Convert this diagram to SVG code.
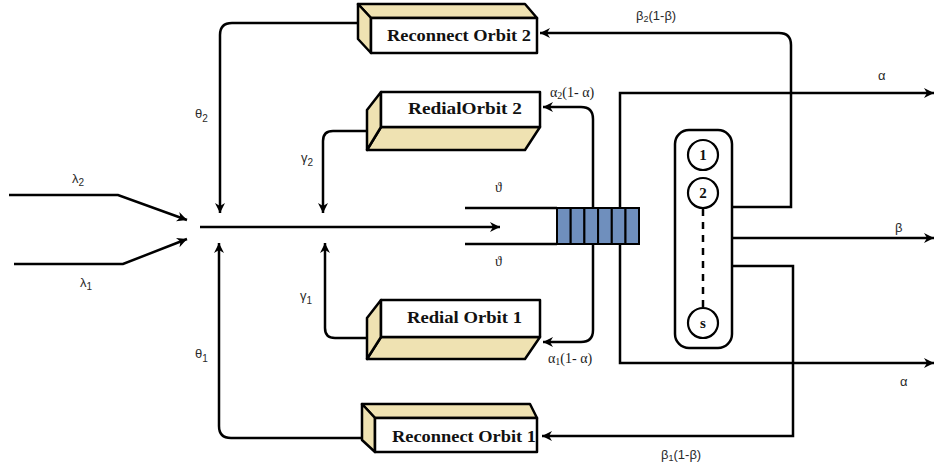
<svg xmlns="http://www.w3.org/2000/svg" width="936" height="468" viewBox="0 0 936 468">
<defs>
<marker id="arr" markerUnits="userSpaceOnUse" markerWidth="11" markerHeight="11" refX="10" refY="5.5" orient="auto">
<path d="M0,0.5 L10,5.5 L0,10.5 L3,5.5 z" fill="#000"/>
</marker>
<style>
.ln{fill:none;stroke:#000;stroke-width:2.5}
.face{fill:#fff;stroke:#000;stroke-width:2.5;stroke-linejoin:round}
.tan{fill:#efe2b2;stroke:#000;stroke-width:2.5;stroke-linejoin:round}
.bl{font-family:"Liberation Serif",serif;font-weight:bold;font-size:16px;fill:#111}
.gs{font-family:"Liberation Sans",Arial,sans-serif;font-size:13px;fill:#2a2a2a}
.gr{font-family:"Liberation Serif",serif;font-size:14px;fill:#1a1a1a}
.cell{fill:#6f8fbd;stroke:#000;stroke-width:2}
.srv{font-family:"Liberation Serif",serif;font-weight:bold;font-size:15px;fill:#111}
.circ{fill:#fff;stroke:#000;stroke-width:2.2}
</style>
</defs>

<g id="connectors">
<path class="ln" d="M9,195 H118 L187,220" marker-end="url(#arr)"/>
<path class="ln" d="M14,264 H123 L187,239" marker-end="url(#arr)"/>
<path class="ln" d="M200,227 H500" marker-end="url(#arr)"/>
<path class="ln" d="M465,208 H557"/>
<path class="ln" d="M465,244 H557"/>
<path class="ln" d="M358,23 H232 Q220,23 220,35 V213" marker-end="url(#arr)"/>
<path class="ln" d="M362,438 H231 Q219,438 219,426 V243" marker-end="url(#arr)"/>
<path class="ln" d="M367,131 H333 Q323,131 323,141 V213" marker-end="url(#arr)"/>
<path class="ln" d="M367,338 H335 Q325,338 325,328 V243" marker-end="url(#arr)"/>
<path class="ln" d="M593,208 V119 Q593,107 581,107 H543" marker-end="url(#arr)"/>
<path class="ln" d="M593,244 V330 Q593,342 581,342 H543" marker-end="url(#arr)"/>
<path class="ln" d="M620,208 V93 H934" marker-end="url(#arr)"/>
<path class="ln" d="M620,244 V363 H934" marker-end="url(#arr)"/>
<path class="ln" d="M732,207 H791 V45 Q791,33 779,33 H540" marker-end="url(#arr)"/>
<path class="ln" d="M732,238 H934" marker-end="url(#arr)"/>
<path class="ln" d="M732,266 H793 V436 H542" marker-end="url(#arr)"/>
</g>

<g id="reconnect2">
<polygon class="tan" points="358,4 525,4 537,18 371,18"/>
<polygon class="tan" points="358,4 371,18 371,53 358,39"/>
<rect class="face" x="371" y="18" width="166" height="35"/>
<text class="bl" x="387" y="41" textLength="144" lengthAdjust="spacingAndGlyphs">Reconnect Orbit  2</text>
</g>

<g id="redial2">
<polygon class="tan" points="381,127 540,127 525,150 367,150"/>
<polygon class="tan" points="381,92 367,110 367,150 381,127"/>
<rect class="face" x="381" y="92" width="159" height="35"/>
<text class="bl" x="408" y="114" textLength="114" lengthAdjust="spacingAndGlyphs">RedialOrbit  2</text>
</g>

<g id="redial1">
<polygon class="tan" points="381,337 540,337 525,359 367,359"/>
<polygon class="tan" points="381,300 367,318 367,359 381,337"/>
<rect class="face" x="381" y="300" width="159" height="37"/>
<text class="bl" x="407" y="323" textLength="115" lengthAdjust="spacingAndGlyphs">Redial Orbit  1</text>
</g>

<g id="reconnect1">
<polygon class="tan" points="362,404 530,404 537,418 375,418"/>
<polygon class="tan" points="362,404 375,418 375,452 362,440"/>
<rect class="face" x="375" y="418" width="162" height="34"/>
<text class="bl" x="392" y="442" textLength="144" lengthAdjust="spacingAndGlyphs">Reconnect Orbit  1</text>
</g>

<g id="queue">
<rect class="cell" x="557" y="208" width="13.7" height="36"/>
<rect class="cell" x="570.7" y="208" width="13.7" height="36"/>
<rect class="cell" x="584.4" y="208" width="13.7" height="36"/>
<rect class="cell" x="598.1" y="208" width="13.7" height="36"/>
<rect class="cell" x="611.8" y="208" width="13.7" height="36"/>
<rect class="cell" x="625.5" y="208" width="13.5" height="36"/>
</g>

<g id="servers">
<rect x="675" y="130" width="57" height="218" rx="14" ry="14" fill="#fff" stroke="#000" stroke-width="2.5"/>
<circle class="circ" cx="703" cy="155" r="15"/>
<text class="srv" x="703" y="160" text-anchor="middle">1</text>
<circle class="circ" cx="703" cy="193" r="15"/>
<text class="srv" x="703" y="198" text-anchor="middle">2</text>
<line x1="703" y1="209" x2="703" y2="307" stroke="#000" stroke-width="2.5" stroke-dasharray="7,6"/>
<circle class="circ" cx="703" cy="323" r="15"/>
<text class="srv" x="703" y="328" text-anchor="middle">s</text>
</g>

<g id="labels">
<text class="gs" x="72" y="183">λ<tspan font-size="10" dy="3">2</tspan></text>
<text class="gs" x="80" y="287">λ<tspan font-size="10" dy="3">1</tspan></text>
<text class="gs" x="195" y="118">θ<tspan font-size="10" dy="4">2</tspan></text>
<text class="gs" x="195" y="358">θ<tspan font-size="10" dy="4">1</tspan></text>
<text class="gs" x="301" y="162">γ<tspan font-size="10" dy="4">2</tspan></text>
<text class="gs" x="300" y="300">γ<tspan font-size="10" dy="4">1</tspan></text>
<text class="gr" x="495" y="192">ϑ</text>
<text class="gr" x="495" y="266">ϑ</text>
<text class="gr" x="550" y="97">α<tspan font-size="10" dy="2">2</tspan><tspan dy="-2">(1- α)</tspan></text>
<text class="gr" x="548" y="363">α<tspan font-size="10" dy="2">1</tspan><tspan dy="-2">(1- α)</tspan></text>
<text class="gs" x="636" y="20">β<tspan font-size="9" dy="2">2</tspan><tspan dy="-2">(1-β)</tspan></text>
<text class="gs" x="661" y="459">β<tspan font-size="9" dy="2">1</tspan><tspan dy="-2">(1-β)</tspan></text>
<text class="gs" x="878" y="80">α</text>
<text class="gs" x="895" y="232">β</text>
<text class="gs" x="900" y="386">α</text>
</g>
</svg>
